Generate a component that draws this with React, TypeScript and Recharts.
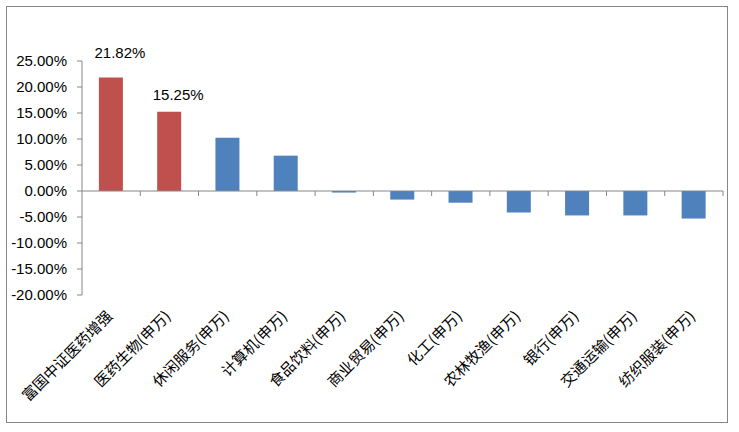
import React from "react";
import { BarChart, Bar, XAxis, YAxis, Cell, ReferenceLine, LabelList } from "recharts";

// 区间收益
const categories = [
  "富国中证医药增强",
  "医药生物(申万)",
  "休闲服务(申万)",
  "计算机(申万)",
  "食品饮料(申万)",
  "商业贸易(申万)",
  "化工(申万)",
  "农林牧渔(申万)",
  "银行(申万)",
  "交通运输(申万)",
  "纺织服装(申万)",
];
const returns = [21.82, 15.25, 10.25, 6.8, -0.3, -1.65, -2.25, -4.15, -4.7, -4.7, -5.3];
const labelled = ["富国中证医药增强", "医药生物(申万)"];
const yTicks = [-20, -15, -10, -5, 0, 5, 10, 15, 20, 25];

const data = categories.map((name, i) => ({ name, value: returns[i] }));

const RED = "#C0504D";
const BLUE = "#4F81BD";
const AXIS = "#868686";
const NUM_FONT = "'Liberation Sans', Arial, sans-serif";
const CJK_FONT = "'Noto Sans CJK SC', sans-serif";

const fmt = (v: number) => `${v.toFixed(2)}%`;

const CategoryTick = (props: any) => {
  const { x, y, payload } = props;
  return (
    <g transform={`translate(${x - 2},${y + 16})`}>
      <text
        transform="rotate(-45)"
        textAnchor="end"
        dy={6}
        fontSize={15}
        fontFamily={CJK_FONT}
        fill="#000"
      >
        {payload.value}
      </text>
    </g>
  );
};

// zero line with tick marks between categories
const ZeroAxis = (props: any) => {
  const { x1, y1, x2 } = props;
  const n = categories.length;
  const step = (x2 - x1) / n;
  const marks = [];
  for (let i = 1; i <= n; i++) {
    const tx = x1 + step * i;
    marks.push(<line key={i} x1={tx} y1={y1} x2={tx} y2={y1 + 5} stroke={AXIS} strokeWidth={1} />);
  }
  return (
    <g>
      <line x1={x1} y1={y1} x2={x2} y2={y1} stroke={AXIS} strokeWidth={1} />
      {marks}
    </g>
  );
};

const ValueLabel = (props: any) => {
  const { x, y, width, value, index } = props;
  if (!labelled.includes(categories[index])) return null;
  const lift = index === 0 ? 20 : 12;
  return (
    <text
      x={x + width / 2 + 9}
      y={y - lift}
      textAnchor="middle"
      fontSize={15}
      fontFamily={NUM_FONT}
      fill="#000"
    >
      {fmt(value)}
    </text>
  );
};

export default function App() {
  return (
    <div style={{ position: "absolute", left: 0, top: 0, width: 739, height: 432, background: "#fff" }}>
      <div
        style={{
          position: "absolute",
          left: 6,
          top: 6,
          width: 720,
          height: 415,
          border: `1px solid ${AXIS}`,
        }}
      />
      <div style={{ position: "absolute", left: 0, top: 0 }}>
        <BarChart
          width={739}
          height={432}
          data={data}
          margin={{ top: 61, right: 16, bottom: 107, left: 0 }}
          barCategoryGap="29%"
        >
          <XAxis
            dataKey="name"
            axisLine={false}
            tickLine={false}
            tickSize={0}
            height={30}
            interval={0}
            tick={<CategoryTick />}
          />
          <YAxis
            width={82}
            domain={[-20, 25]}
            ticks={yTicks}
            tickFormatter={fmt}
            axisLine={{ stroke: AXIS }}
            tickLine={{ stroke: AXIS }}
            tickSize={5}
            tickMargin={10}
            tick={{ fontSize: 15, fontFamily: NUM_FONT, fill: "#000" }}
            allowDataOverflow
          />
          <Bar dataKey="value" isAnimationActive={false}>
            {data.map((d) => (
              <Cell key={d.name} fill={labelled.includes(d.name) ? RED : BLUE} />
            ))}
            <LabelList dataKey="value" content={<ValueLabel />} />
          </Bar>
          <ReferenceLine y={0} shape={(p: any) => <ZeroAxis {...p} />} />
        </BarChart>
      </div>
    </div>
  );
}
